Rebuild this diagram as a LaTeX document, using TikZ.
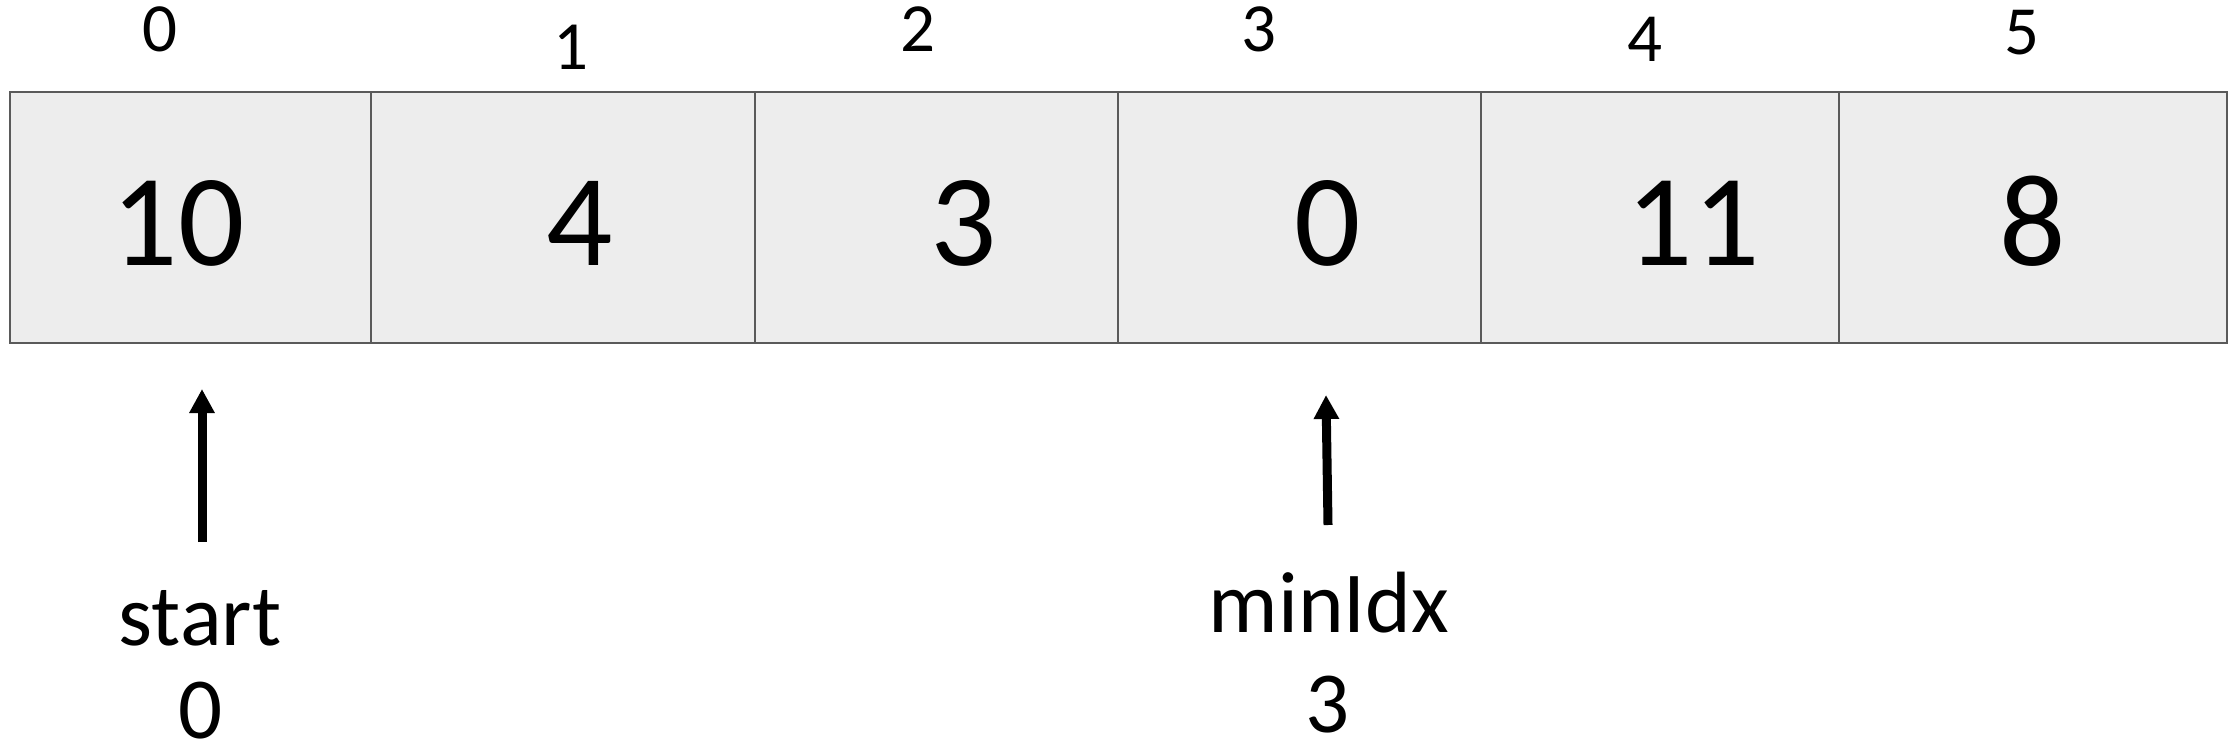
\documentclass[tikz,border=0pt]{standalone}
\usepackage{fontspec}
\setmainfont{Carlito}
\usetikzlibrary{arrows.meta}
\definecolor{cellfill}{HTML}{EDEDED}
\definecolor{cellline}{HTML}{5A5A5A}
\begin{document}
\begin{tikzpicture}[x=0.5pt,y=-0.5pt,
  cell/.style={draw=cellline,line width=1pt,fill=cellfill,anchor=north west,inner sep=0pt,outer sep=0pt,minimum height=125.5pt},
  val/.style={anchor=base,inner sep=0pt,font=\fontsize{65.5}{70}\selectfont},
  idx/.style={anchor=base,inner sep=0pt,font=\fontsize{34.5}{38}\selectfont},
  lbl/.style={anchor=base,inner sep=0pt,font=\fontsize{43.5}{48}\selectfont},
  ptr/.style={line width=4.5pt,-{Triangle[width=12pt,length=12pt]}}]
\useasboundingbox (0,0) rectangle (2236,754);
% cells
\node[cell,minimum width=180.5pt] (c0) at (10,92) {};
\node[cell,minimum width=192pt]   (c1) at (371,92) {};
\node[cell,minimum width=181.5pt] (c2) at (755,92) {};
\node[cell,minimum width=181.5pt] (c3) at (1118,92) {};
\node[cell,minimum width=179pt]   (c4) at (1481,92) {};
\node[cell,minimum width=194pt]   (c5) at (1839,92) {};
% values
\node[val] (v0) at (178,265) {10};
\node[val] (v1) at (580,265) {4};
\node[val] (v2) at (964,265) {3};
\node[val] (v3) at (1328,265) {0};
\node[val] (v4) at (1693,265) {11};
\node[val] (v5) at (2033,265) {8};
% indices
\node[idx] (i0) at (160,52) {0};
\node[idx] (i1) at (571,70) {1};
\node[idx] (i2) at (918,52) {2};
\node[idx] (i3) at (1259,52) {3};
\node[idx] (i4) at (1645,62) {4};
\node[idx] (i5) at (2022,55) {5};
% pointer labels
\node[lbl] (ls) at (200,645) {start};
\node[lbl] (lsv) at (201,738) {0};
\node[lbl] (lm) at (1329,632) {minIdx};
\node[lbl] (lmv) at (1328,732) {3};
% arrows
\coordinate (a1s) at (202,542);
\coordinate (a1e) at (202,389);
\coordinate (a2s) at (1328,525);
\coordinate (a2e) at (1326,395);
\draw[ptr] (a1s) -- (a1e);
\draw[ptr] (a2s) -- (a2e);
\end{tikzpicture}
\end{document}
